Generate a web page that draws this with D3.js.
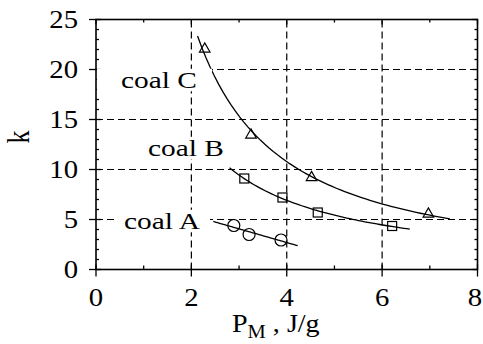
<!DOCTYPE html>
<html>
<head>
<meta charset="utf-8">
<script src="https://cdn.jsdelivr.net/npm/d3@7"></script>
<style>
  html, body { margin: 0; padding: 0; background: #fff; }
  svg { display: block; }
</style>
</head>
<body>
<svg id="chart" width="483" height="344"></svg>
<script>
// Measured points: k versus P_M (J/g) for three coals
const coalA_P = [2.89, 3.21, 3.88];
const coalA_k = [4.4, 3.5, 2.95];
const coalB_P = [3.11, 3.91, 4.65, 6.21];
const coalB_k = [9.1, 7.2, 5.7, 4.35];
const coalC_P = [2.28, 3.25, 4.52, 6.97];
const coalC_k = [22.05, 13.45, 9.2, 5.55];

// P_M span covered by each fitted curve, and the fit form used
const fitRangeA = [2.46, 4.23];
const fitRangeB = [2.8, 6.58];
const fitRangeC = [2.13, 7.42];
const fitTypes = ["linear", "power", "power"];

const xTicks = [0, 2, 4, 6, 8];
const yTicks = [0, 5, 10, 15, 20, 25];
const gridX = [2, 4, 6];
const gridY = [5, 10, 15, 20];
const seriesNames = ["coal A", "coal B", "coal C"];

const FONT = "'Liberation Serif', 'Times New Roman', 'DejaVu Serif', serif";

const svg = d3.select("#chart");
const x = d3.scaleLinear().domain([0, 8]).range([96, 477.5]);
const y = d3.scaleLinear().domain([0, 25]).range([269.5, 19.5]);

// Text drawn with a slight horizontal stretch
function label(parent, px, py, str, size, sx, anchor) {
  const g = parent.append("g").attr("transform", `translate(${px},${py}) scale(${sx},1)`);
  g.append("text").attr("text-anchor", anchor || "start")
    .attr("font-family", FONT).attr("font-size", size).attr("fill", "#000").text(str);
  return g;
}

// Dashed grid
const grid = svg.append("g").attr("stroke", "#000").attr("stroke-width", 1.2)
  .attr("stroke-dasharray", "7,4").attr("fill", "none");
gridX.forEach(v => grid.append("line").attr("x1", x(v)).attr("x2", x(v))
  .attr("y1", y(0)).attr("y2", y(25)));
gridY.forEach(v => grid.append("line").attr("x1", x(0)).attr("x2", x(8))
  .attr("y1", y(v)).attr("y2", y(v)));

// Axis tick positions (one per unit); majors straddle the left/bottom lines
const minorX = d3.range(0, 8.01, 1);
const minorY = d3.range(0, 25.01, 1);

const bottom = svg.append("g").attr("transform", `translate(0,${y(0)})`)
  .call(d3.axisBottom(x).tickValues(minorX).tickSize(0).tickFormat(""));
bottom.select(".domain").remove();
const left = svg.append("g").attr("transform", `translate(${x(0)},0)`)
  .call(d3.axisLeft(y).tickValues(minorY).tickSize(0).tickFormat(""));
left.select(".domain").remove();

const ticks = svg.append("g").attr("stroke", "#000").attr("stroke-width", 1.3);
minorX.forEach(v => {
  const major = v % 2 === 0;
  ticks.append("line").attr("x1", x(v)).attr("x2", x(v))
    .attr("y1", y(0) + (major ? 7 : 0)).attr("y2", y(0) - (major ? 5 : 4));
  ticks.append("line").attr("x1", x(v)).attr("x2", x(v))
    .attr("y1", y(25)).attr("y2", y(25) + (major ? 5 : 3));
});
minorY.forEach(v => {
  const major = v % 5 === 0;
  ticks.append("line").attr("y1", y(v)).attr("y2", y(v))
    .attr("x1", x(0) - (major ? 7 : 0)).attr("x2", x(0) + (major ? 5 : 3));
  ticks.append("line").attr("y1", y(v)).attr("y2", y(v))
    .attr("x1", x(8)).attr("x2", x(8) - (major ? 5 : 3));
});

// Frame
svg.append("rect").attr("x", x(0)).attr("y", y(25))
  .attr("width", x(8) - x(0)).attr("height", y(0) - y(25))
  .attr("fill", "none").attr("stroke", "#000").attr("stroke-width", 1.6);

// Tick labels (the last x label is kept inside the page edge)
xTicks.forEach(v => {
  const g = label(svg, x(v), 306, String(v), 25, 1.15, "middle");
  const bb = g.node().getBoundingClientRect();
  if (bb.right > 482) g.attr("transform", `translate(${x(v) - (bb.right - 482)},306) scale(1.15,1)`);
});
yTicks.forEach(v => label(svg, 78, y(v) + 8.5, String(v), 25, 1.15, "end"));

// Axis titles
const xt = svg.append("g").attr("transform", "translate(232,332) scale(1.08,1)");
const xtText = xt.append("text").attr("font-family", FONT).attr("font-size", 26).attr("fill", "#000");
xtText.append("tspan").text("P");
xtText.append("tspan").attr("font-size", 19).attr("dy", 6).text("M");
xtText.append("tspan").attr("dy", -6).text(" , J/g");

svg.append("g").attr("transform", "translate(29,137) rotate(-90) scale(1,1.2)")
  .append("text").attr("text-anchor", "middle").attr("font-family", FONT)
  .attr("font-size", 26).attr("fill", "#000").text("k");

// Least-squares fits: straight line, or power law k = a * P^b in log space
function linearFit(P, k) {
  const mx = d3.mean(P), my = d3.mean(k);
  const b = d3.sum(P, (v, i) => (v - mx) * (k[i] - my)) / d3.sum(P, v => (v - mx) * (v - mx));
  return p => my + b * (p - mx);
}
function powerFit(P, k) {
  const f = linearFit(P.map(Math.log), k.map(Math.log));
  return p => Math.exp(f(Math.log(p)));
}

const line = d3.line().x(d => x(d[0])).y(d => y(d[1]));
function drawFit(P, k, range, type) {
  const f = type === "linear" ? linearFit(P, k) : powerFit(P, k);
  const pts = d3.range(0, 61).map(i => {
    const p = range[0] + (range[1] - range[0]) * i / 60;
    return [p, f(p)];
  });
  svg.append("path").datum(pts).attr("d", line)
    .attr("fill", "none").attr("stroke", "#000").attr("stroke-width", 1.3);
}
drawFit(coalA_P, coalA_k, fitRangeA, fitTypes[0]);
drawFit(coalB_P, coalB_k, fitRangeB, fitTypes[1]);
drawFit(coalC_P, coalC_k, fitRangeC, fitTypes[2]);

// Markers
const mk = svg.append("g").attr("fill", "none").attr("stroke", "#000").attr("stroke-width", 1.2);
coalA_P.forEach((p, i) => mk.append("circle").attr("cx", x(p)).attr("cy", y(coalA_k[i])).attr("r", 6));
coalB_P.forEach((p, i) => mk.append("rect")
  .attr("x", x(p) - 4.5).attr("y", y(coalB_k[i]) - 4.5).attr("width", 9).attr("height", 9));
const tri = d3.symbol().type(d3.symbolTriangle).size(48);
coalC_P.forEach((p, i) => mk.append("path").attr("d", tri())
  .attr("transform", `translate(${x(p)},${y(coalC_k[i])})`));

// Series labels on a white backing that hides the grid behind them
const labelPos = [[124, 229], [148, 156], [121, 88]];
const backing = [[118, 210], [144, 230], [97, 212]];
seriesNames.forEach((name, i) => {
  const g = label(svg, labelPos[i][0], labelPos[i][1], name, 23.5, 1.25, "start");
  const bb = g.node().getBBox();
  const sx = 1.25;
  g.insert("rect", "text")
    .attr("x", (backing[i][0] - labelPos[i][0]) / sx)
    .attr("y", bb.y + 2)
    .attr("width", (backing[i][1] - backing[i][0]) / sx)
    .attr("height", bb.height - 4).attr("fill", "#fff");
});
</script>
</body>
</html>
